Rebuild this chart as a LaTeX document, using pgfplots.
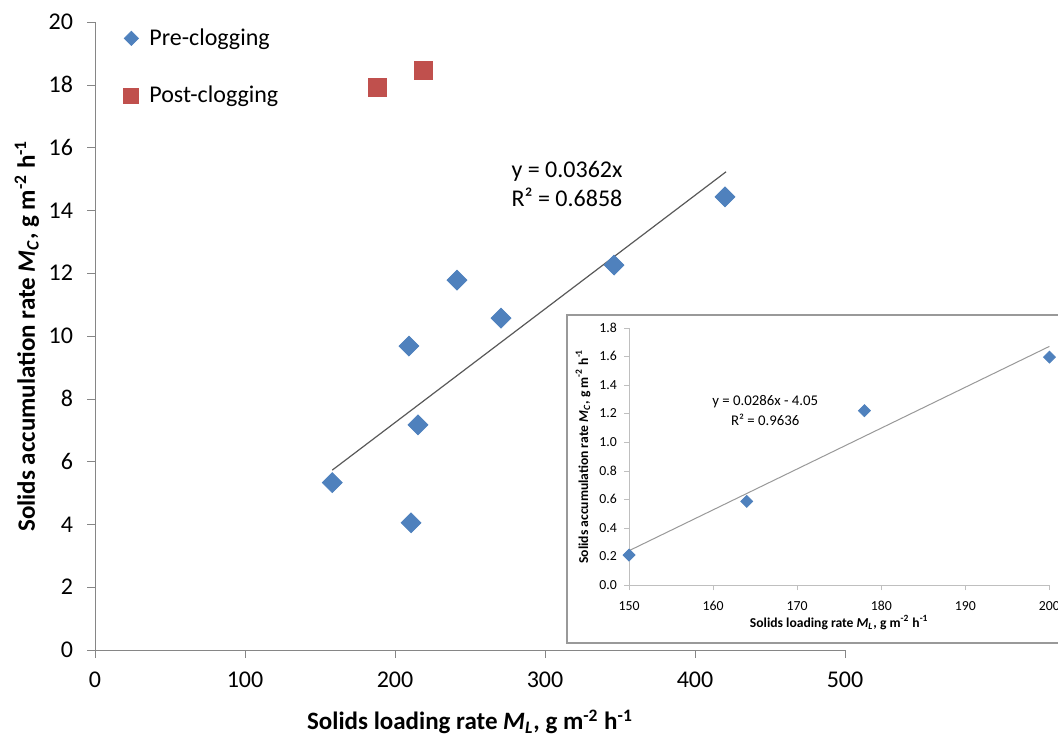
\documentclass[border=0pt]{standalone}
\usepackage{fontspec}
\setmainfont{Carlito}
\usepackage{pgfplots}
\pgfplotsset{compat=1.18}
\definecolor{preblue}{RGB}{79,129,189}
\definecolor{postred}{RGB}{192,80,77}
\definecolor{axgray}{RGB}{134,134,134}
\definecolor{lightax}{RGB}{191,191,191}

\begin{document}
\begin{tikzpicture}
\useasboundingbox (0pt,0pt) rectangle (529pt,368pt);
\clip (0pt,0pt) rectangle (529pt,368pt);

% main chart
\begin{axis}[
    at={(47.5pt,43pt)}, anchor=south west,
    scale only axis, width=375pt, height=314pt,
    xmin=0, xmax=500, ymin=0, ymax=20,
    xtick={0,100,200,300,400,500},
    ytick={0,2,4,6,8,10,12,14,16,18,20},
    axis lines=left,
    axis line style={axgray,-},
    tick style={axgray},
    tick align=outside,
    major tick length=4pt,
    /pgf/number format/assume math mode=true,
    tick label style={font=\fontsize{12}{14}\selectfont},
    xticklabel style={yshift=-3.3pt},
    yticklabel style={xshift=-3.5pt},
    label style={font=\bfseries\fontsize{12.5}{15}\selectfont},
    xlabel={Solids loading rate \textit{M}\textsubscript{\textit{L}}, g m\textsuperscript{-2} h\textsuperscript{-1}},
    ylabel={Solids accumulation rate \textit{M}\textsubscript{\textit{C}}, g m\textsuperscript{-2} h\textsuperscript{-1}},
    xlabel style={at={(axis description cs:0.5,-0.1146)}, anchor=center},
    ylabel style={at={(axis description cs:-0.0907,0.5)}, anchor=center},
    clip=false,
    legend style={at={(axis description cs:0.0293,1.003)}, anchor=north west,
        draw=none, fill=none, font=\fontsize{12}{14}\selectfont, row sep=15pt,
        /tikz/every odd column/.append style={column sep=3pt}},
    legend cell align=left,
]
\addplot[only marks, color=preblue, mark=square*, mark size=3.5pt,
    mark options={rotate=45},
    legend image code/.code={\path[draw=none, fill=none] (-4pt,-4pt) rectangle (4pt,4pt);
        \draw[preblue, fill=preblue] plot[mark=square*, mark size=2.5pt,
            mark options={rotate=45}] coordinates {(0pt,0pt)};}] coordinates {
    (158.2,5.33) (210.7,4.05) (215.3,7.17) (209.3,9.68)
    (241.3,11.78) (270.7,10.57) (346.0,12.26) (420.0,14.43)
};
\addlegendentry{Pre-clogging}
\addplot[only marks, color=postred, mark=square*, mark size=4.6pt,
    legend image code/.code={\path[draw=none, fill=none] (-4pt,-4pt) rectangle (4pt,4pt);
        \draw[postred, fill=postred] plot[mark=square*, mark size=3.75pt]
            coordinates {(0pt,0pt)};}] coordinates {
    (188.2,17.92) (219.1,18.45)
};
\addlegendentry{Post-clogging}
% linear trend, y = 0.0362x
\addplot[forget plot, color=black!65, line width=0.6pt] coordinates {
    (158.2,5.73) (420.7,15.23)
};
\node[anchor=west, align=left, font=\fontsize{12}{14.5}\selectfont]
    at (axis cs:273,14.85) {y = 0.0362x\\R² = 0.6858};
\end{axis}

% inset frame
\filldraw[draw=black!40, fill=white, line width=0.6pt] (283.5pt,46.5pt) rectangle (540pt,210.5pt);

% inset chart
\begin{axis}[
    at={(314.5pt,75.5pt)}, anchor=south west,
    scale only axis, width=210.2pt, height=128.6pt,
    xmin=150, xmax=200, ymin=0, ymax=1.8,
    xtick={150,160,170,180,190,200},
    ytick={0,0.2,0.4,0.6,0.8,1.0,1.2,1.4,1.6,1.8},
    axis lines=left,
    axis line style={lightax,-},
    tick style={lightax},
    tick align=outside,
    major tick length=2.5pt,
    /pgf/number format/assume math mode=true,
    tick label style={font=\fontsize{6.9}{8}\selectfont},
    yticklabel style={/pgf/number format/.cd, fixed, fixed zerofill, precision=1},
    xticklabel style={yshift=-2pt},
    label style={font=\bfseries\fontsize{6.8}{8}\selectfont},
    xlabel={Solids loading rate \textit{M}\textsubscript{\textit{L}}, g m\textsuperscript{-2} h\textsuperscript{-1}},
    ylabel={Solids accumulation rate \textit{M}\textsubscript{\textit{C}}, g m\textsuperscript{-2} h\textsuperscript{-1}},
    xlabel style={at={(axis description cs:0.5,-0.1477)}, anchor=center},
    ylabel style={at={(axis description cs:-0.1094,0.5)}, anchor=center},
    clip=false,
]
\addplot[only marks, color=preblue, mark=square*, mark size=2.1pt,
    mark options={rotate=45}] coordinates {
    (150,0.21) (164,0.585) (178,1.22) (200,1.595)
};
% linear trend, y = 0.0286x - 4.05
\addplot[color=black!40, line width=0.5pt] coordinates {
    (150,0.24) (200,1.67)
};
\node[align=center, font=\fontsize{7.4}{10}\selectfont]
    at (axis cs:166.2,1.22) {y = 0.0286x - 4.05\\R² = 0.9636};
\end{axis}
\end{tikzpicture}
\end{document}
